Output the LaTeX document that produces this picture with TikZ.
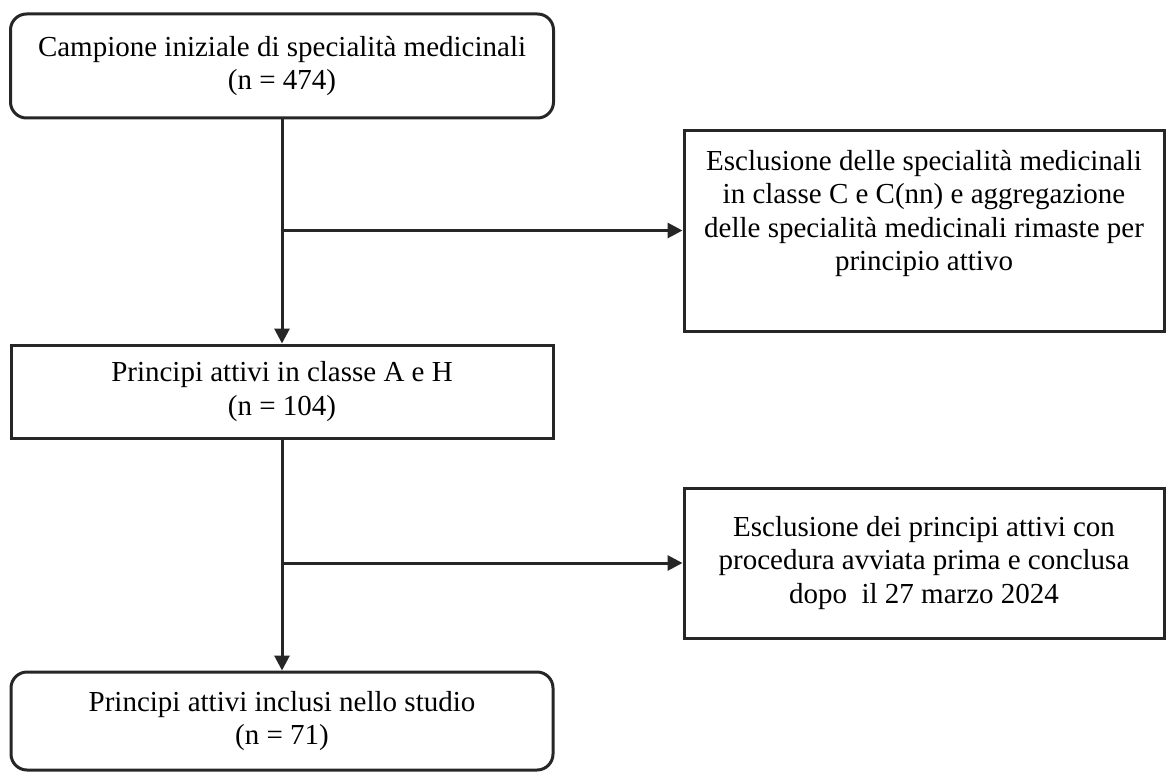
\documentclass[tikz,border=0pt]{standalone}
\usepackage{fontspec}
\setmainfont{Liberation Serif}
\usetikzlibrary{arrows.meta, positioning}

\begin{document}
\begin{tikzpicture}[x=1pt, y=-1pt, >={Triangle[length=15pt, width=15pt]}, line width=3pt,
        box/.style={draw=black!85, align=center, font=\fontsize{29}{33.5}\selectfont, inner sep=0pt},
        rbox/.style={box, rounded corners=16pt}]
        \useasboundingbox (0,0) rectangle (1166,773);

        % left column
        \node[rbox, minimum width=543pt, minimum height=104pt] (campione) at (282,66)
            {Campione iniziale di specialità medicinali\\(n = 474)};
        \node[box, minimum width=542pt, minimum height=93pt] (principi) at (282,391.5)
            {Principi attivi in classe A e H\\(n = 104)};
        \node[rbox, minimum width=542pt, minimum height=98pt] (inclusi) at (282,721)
            {Principi attivi inclusi nello studio\\(n = 71)};

        % exclusions on the right
        \node[box, minimum width=480pt, minimum height=201pt, text depth=40pt] (escl1) at (924,230.5)
            {Esclusione delle specialità medicinali\\in classe C e C(nn) e aggregazione\\delle specialità medicinali rimaste per\\principio attivo};
        \node[box, minimum width=480pt, minimum height=150pt] (escl2) at (924,563)
            {Esclusione dei principi attivi con\\procedura avviata prima e conclusa\\dopo\ \ il 27 marzo 2024};

        \coordinate (j1) at (campione.south |- escl1.west);
        \coordinate (j2) at (principi.south |- escl2.west);

        \draw[->, black!85] (campione) -- (principi);
        \draw[->, black!85] (principi) -- (inclusi);
        \draw[->, black!85] (j1) -- (escl1);
        \draw[->, black!85] (j2) -- (escl2);
    \end{tikzpicture}
\end{document}
